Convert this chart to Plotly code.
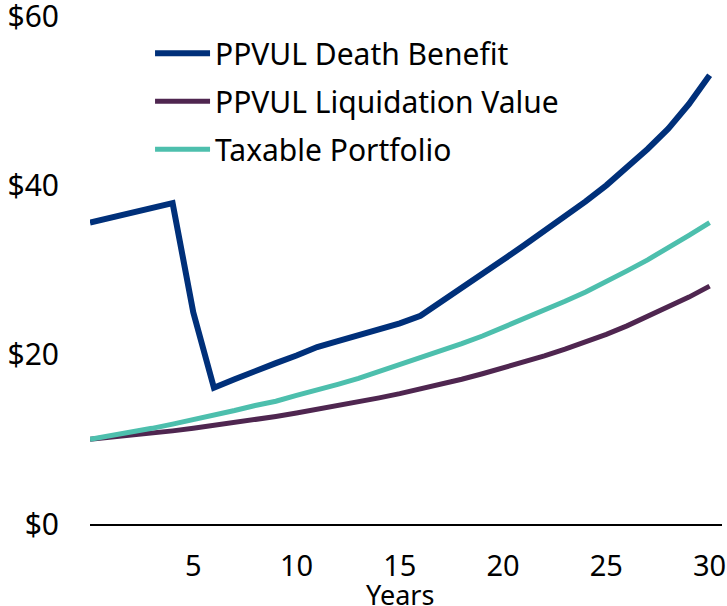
import plotly.graph_objects as go

years = list(range(0, 31))
death_benefit = [35.6, 36.2, 36.7, 37.3, 37.9, 25.0, 16.1, 17.1, 18.1, 19.0,
                 19.9, 20.9, 21.6, 22.3, 23.0, 23.7, 24.6, 26.2, 27.8, 29.5,
                 31.2, 32.9, 34.6, 36.4, 38.1, 40.0, 42.1, 44.3, 46.7, 49.6, 53.0]
liquidation = [10.0, 10.22, 10.46, 10.72, 11.0, 11.3, 11.62, 11.96, 12.32, 12.7,
               13.1, 13.52, 13.96, 14.42, 14.9, 15.4, 15.95, 16.5, 17.1, 17.75,
               18.4, 19.1, 19.85, 20.65, 21.5, 22.4, 23.4, 24.5, 25.6, 26.8, 28.1]
taxable = [10.0, 10.4, 10.9, 11.3, 11.8, 12.3, 12.8, 13.4, 14.0, 14.5,
           15.2, 15.8, 16.5, 17.2, 18.0, 18.8, 19.6, 20.4, 21.3, 22.2,
           23.2, 24.2, 25.2, 26.3, 27.4, 28.6, 29.9, 31.2, 32.6, 34.1, 35.6]

series_names = ["PPVUL Death Benefit", "PPVUL Liquidation Value", "Taxable Portfolio"]
colors = ["#00307A", "#4F2650", "#4DBFAD"]
widths = [6, 5, 5]

x_ticks = [5, 10, 15, 20, 25, 30]
y_ticks = [0, 20, 40, 60]
y_tick_labels = ["$0", "$20", "$40", "$60"]
x_title = "Years"

FONT = "Noto Sans"

fig = go.Figure()
for name, vals, c, w in zip(series_names, [death_benefit, liquidation, taxable], colors, widths):
    fig.add_trace(go.Scatter(x=years, y=vals, name=name, mode="lines",
                             line=dict(color=c, width=w), legendgroup=name))

fig.update_layout(
    width=727, height=606,
    margin=dict(l=90, r=5, t=16, b=82),
    paper_bgcolor="white", plot_bgcolor="white",
    font=dict(family=FONT, color="black"),
    showlegend=True,
    legend=dict(x=0.095, y=0.978, xanchor="left", yanchor="top",
                font=dict(family=FONT, size=30, color="black"),
                bgcolor="rgba(0,0,0,0)", itemwidth=55, tracegroupgap=6,
                traceorder="grouped"),
    xaxis=dict(range=[0, 30.6], tickvals=x_ticks, ticktext=[str(v) for v in x_ticks],
               showgrid=False, zeroline=False, showline=True, linecolor="black", linewidth=2,
               ticks="", ticklabelstandoff=15, automargin=False, ticklabeloverflow="allow",
               tickfont=dict(family=FONT, size=29, color="black")),
    yaxis=dict(range=[0, 60], tickvals=y_ticks, ticktext=y_tick_labels,
               showgrid=False, zeroline=False, showline=False, automargin=False,
               ticks="", ticklabelstandoff=30, ticklabeloverflow="allow",
               tickfont=dict(family=FONT, size=30, color="black")),
    annotations=[dict(text=x_title, xref="paper", yref="paper", x=0.49, y=-0.138,
                      xanchor="center", yanchor="middle", showarrow=False,
                      font=dict(family=FONT, size=27, color="black"))],
)

# remove the default 8px page margin so the 727x606 figure fills the window exactly
fig.write_html("out.html",
               config={"displayModeBar": False},
               post_script="document.body.style.margin='0';document.body.style.overflow='hidden';")
